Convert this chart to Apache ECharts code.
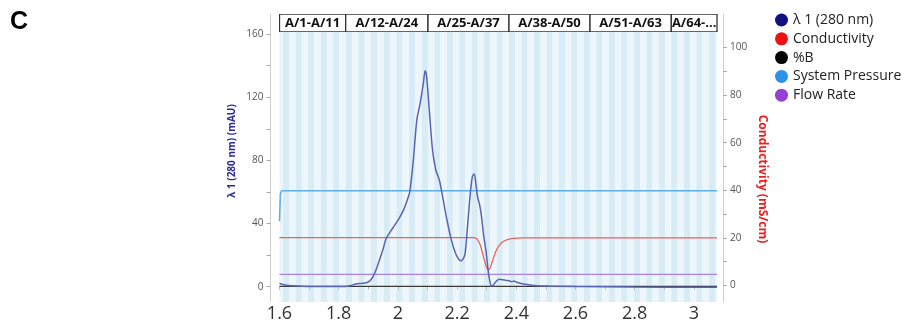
<!DOCTYPE html>
<html><head><meta charset="utf-8">
<script src="https://cdn.jsdelivr.net/npm/echarts@6/dist/echarts.min.js"></script>
<style>html,body{margin:0;padding:0;background:#fff}#c{width:907px;height:326px}</style>
</head><body><div id="c"></div>
<script>
// ---- data ----
const uvTime  = [1.600,1.610,1.630,1.660,1.700,1.750,1.800,1.830,1.845,1.860,1.875,1.890,1.904,1.915,1.926,1.938,1.949,1.960,1.970,1.984,2.004,2.020,2.030,2.040,2.052,2.064,2.075,2.086,2.092,2.097,2.106,2.117,2.128,2.140,2.151,2.165,2.180,2.195,2.205,2.213,2.220,2.227,2.236,2.245,2.252,2.258,2.263,2.269,2.276,2.282,2.290,2.298,2.305,2.310,2.316,2.322,2.330,2.343,2.355,2.365,2.375,2.385,2.392,2.400,2.410,2.430,2.460,2.500,2.600,2.800,3.000,3.078];
const uvValue = [2.2,1.4,0.8,0.4,0.2,0.1,0.1,0.3,1.0,1.8,2.1,2.3,3.5,6.0,10.6,17.0,23.2,30.5,33.5,37.5,43.3,49.0,54.0,60.0,80.0,105.6,116.0,128.8,136.8,133.0,112.0,86.6,73.9,67.6,57.0,43.0,30.0,21.0,17.5,16.5,17.5,21.0,40.0,60.0,70.0,71.4,66.0,57.0,52.0,45.0,32.0,22.0,10.0,4.0,0.5,1.0,3.0,4.7,4.4,4.0,3.8,3.2,3.6,3.0,2.3,1.5,0.8,0.4,0.1,-0.2,-0.3,-0.3];
const condTime  = [1.600,2.255,2.265,2.275,2.283,2.292,2.300,2.305,2.312,2.320,2.333,2.345,2.355,2.370,2.390,2.420,3.078];
const condValue = [20.1,20.1,19.8,18.0,15.0,10.7,7.5,6.5,7.5,10.5,14.9,17.3,18.4,19.3,19.8,20.0,20.0];
const percentBTime  = [1.600,3.078];
const percentBValue = [-0.4,-0.4];
const pressureTime  = [1.600,1.603,1.607,3.078];
const pressureValue = [27,38.5,39.8,39.8];
const flowTime  = [1.600,3.078];
const flowValue = [4.7,4.7];

const fractionSetLabels = ['A/1-A/11','A/12-A/24','A/25-A/37','A/38-A/50','A/51-A/63','A/64-...'];
const fractionSetBounds = [1.5910,1.8236,2.1017,2.3753,2.6490,2.9236,3.1980];
const fractionSetCounts = [11,13,13,13,13,13];

const xTickValues  = [1.6,1.7,1.8,1.9,2.0,2.1,2.2,2.3,2.4,2.5,2.6,2.7,2.8,2.9,3.0];
const xLabelValues = [1.6,1.8,2.0,2.2,2.4,2.6,2.8,3.0];
const leftTickValues  = [0,20,40,60,80,100,120,140,160];
const leftLabelValues = [0,40,80,120,160];
const rightTickValues  = [0,10,20,30,40,50,60,70,80,90,100];
const rightLabelValues = [0,20,40,60,80,100];

const seriesNames  = ['λ 1 (280 nm)','Conductivity','%B','System Pressure','Flow Rate'];
const legendColors = ['#10107e','#ee1111','#000000','#2b93ea','#9441d3'];
const lineColors   = ['#5b63b3','#e8625e','#3a3a3a','#5cb0e6','#a982e6'];

// ---- axis ranges ----
const X_MIN = 1.6, X_MAX = 3.078;
const L_MIN = -9.69, L_MAX = 172.7;
const R_MIN = -6.93, R_MAX = 114.08;

const zip = (a, b) => a.map((v, i) => [v, b[i]]);

// stripes: one per fraction
const stripeData = [];
let parity = 0;
fractionSetCounts.forEach((n, k) => {
  const a = fractionSetBounds[k], b = fractionSetBounds[k + 1];
  for (let i = 0; i < n; i++) {
    stripeData.push([a + (b - a) * i / n, a + (b - a) * (i + 1) / n, L_MIN, L_MAX, parity]);
    parity = 1 - parity;
  }
});
const headerData = fractionSetLabels.map((t, i) => [fractionSetBounds[i], fractionSetBounds[i + 1], 0, 1, i]);

function clipTo(params, r) {
  const c = params.coordSys;
  return echarts.graphic.clipRectByRect(r, {x: c.x, y: c.y, width: c.width, height: c.height});
}

const FONT = '"Open Sans", "Noto Sans", sans-serif';
const fmtX = v => String(parseFloat((+v).toFixed(1)));

const chart = echarts.init(document.getElementById('c'), null, {renderer: 'canvas'});
chart.setOption({
  animation: false,
  backgroundColor: '#fff',
  title: {text: 'C', left: 10, top: 10, padding: 0,
    textStyle: {fontSize: 25, fontWeight: 'bold', color: '#000', fontFamily: '"Liberation Sans", Arial, sans-serif'}},
  legend: {
    orient: 'vertical', left: 770, top: 8, icon: 'circle',
    itemWidth: 13, itemHeight: 13, itemGap: 4.8,
    textStyle: {fontSize: 14, color: '#222', fontFamily: FONT, lineHeight: 14, padding: [0, 0, 0, 0]},
    data: seriesNames.map((n, i) => ({name: n, itemStyle: {color: legendColors[i]}}))
  },
  grid: [
    {left: 279.5, right: 190, top: 14, bottom: 24},
    {left: 279.5, right: 190, top: 14, height: 18}
  ],
  xAxis: [
    {type: 'value', gridIndex: 0, min: X_MIN, max: X_MAX, offset: 1,
      axisLine: {show: true, lineStyle: {color: '#c8c8c8'}},
      axisTick: {show: true, length: 3, customValues: xTickValues, lineStyle: {color: '#bbb'}},
      axisLabel: {customValues: xLabelValues, formatter: fmtX, fontSize: 18, color: '#333', margin: 2, fontFamily: FONT},
      splitLine: {show: false}},
    {type: 'value', gridIndex: 1, min: X_MIN, max: X_MAX, show: false}
  ],
  yAxis: [
    {type: 'value', gridIndex: 0, min: L_MIN, max: L_MAX, position: 'left', offset: 9,
      name: 'λ 1 (280 nm) (mAU)', nameLocation: 'middle', nameGap: 33,
      nameTextStyle: {color: '#2a2a9e', fontWeight: 'bold', fontSize: 10, fontFamily: FONT, padding: [0, 0, 0, 14]},
      axisLine: {show: true, lineStyle: {color: '#d0d0d0'}},
      axisTick: {show: true, length: 4, customValues: leftTickValues, lineStyle: {color: '#aaa'}},
      axisLabel: {customValues: leftLabelValues, fontSize: 10, color: '#555', margin: 7, fontFamily: FONT},
      splitLine: {show: false}},
    {type: 'value', gridIndex: 0, min: R_MIN, max: R_MAX, position: 'right', offset: 6,
      name: 'Conductivity (mS/cm)', nameLocation: 'middle', nameGap: 33, nameRotate: -90,
      nameTextStyle: {color: '#ee1c1c', fontWeight: 'bold', fontSize: 12, fontFamily: FONT, padding: [0, 0, 0, 42]},
      axisLine: {show: true, lineStyle: {color: '#d0d0d0'}},
      axisTick: {show: true, length: 4, customValues: rightTickValues, lineStyle: {color: '#aaa'}},
      axisLabel: {customValues: rightLabelValues, fontSize: 10, color: '#555', margin: 7, fontFamily: FONT},
      splitLine: {show: false}},
    {type: 'value', gridIndex: 1, min: 0, max: 1, show: false}
  ],
  series: [
    {type: 'custom', name: 'stripes', xAxisIndex: 0, yAxisIndex: 0, z: 0, silent: true, clip: true,
      encode: {x: [0, 1], y: [2, 3]}, data: stripeData,
      renderItem: (params, api) => {
        const p0 = api.coord([api.value(0), api.value(3)]);
        const p1 = api.coord([api.value(1), api.value(2)]);
        const r = clipTo(params, {x: p0[0], y: p0[1], width: p1[0] - p0[0], height: p1[1] - p0[1]});
        return r && {type: 'rect', shape: r, style: {fill: api.value(4) ? '#d8ecf6' : '#edf6fa'}};
      }},
    {type: 'line', name: seriesNames[3], yAxisIndex: 1, data: zip(pressureTime, pressureValue), showSymbol: false, z: 3,
      lineStyle: {color: lineColors[3], width: 1.6}, itemStyle: {color: lineColors[3]}},
    {type: 'line', name: seriesNames[1], yAxisIndex: 1, data: zip(condTime, condValue), showSymbol: false, smooth: 0.4, z: 3,
      lineStyle: {color: lineColors[1], width: 1.3}, itemStyle: {color: lineColors[1]}},
    {type: 'line', name: seriesNames[4], yAxisIndex: 1, data: zip(flowTime, flowValue), showSymbol: false, z: 3,
      lineStyle: {color: lineColors[4], width: 1.3}, itemStyle: {color: lineColors[4]}},
    {type: 'line', name: seriesNames[2], yAxisIndex: 1, data: zip(percentBTime, percentBValue), showSymbol: false, z: 3,
      lineStyle: {color: lineColors[2], width: 1.3}, itemStyle: {color: lineColors[2]}},
    {type: 'line', name: seriesNames[0], yAxisIndex: 0, data: zip(uvTime, uvValue), showSymbol: false, smooth: 0.3, z: 4,
      lineStyle: {color: lineColors[0], width: 1.5}, itemStyle: {color: lineColors[0]}},
    {type: 'custom', name: 'fractions', xAxisIndex: 1, yAxisIndex: 2, z: 6, silent: true, clip: true,
      encode: {x: [0, 1], y: [2, 3]}, data: headerData,
      renderItem: (params, api) => {
        const p0 = api.coord([api.value(0), api.value(3)]);
        const p1 = api.coord([api.value(1), api.value(2)]);
        const r = clipTo(params, {x: p0[0], y: p0[1], width: p1[0] - p0[0], height: p1[1] - p0[1]});
        if (!r) return null;
        return {type: 'group', children: [
          {type: 'rect', shape: r, style: {fill: '#fff', stroke: '#333', lineWidth: 1.3}},
          {type: 'text', x: r.x + r.width / 2, y: r.y + r.height / 2 + 0.5,
            style: {text: fractionSetLabels[api.value(4)], fill: '#111',
              font: 'bold 13px ' + FONT, textAlign: 'center', textVerticalAlign: 'middle',
              align: 'center', verticalAlign: 'middle'}}
        ]};
      }}
  ]
});
</script></body></html>
